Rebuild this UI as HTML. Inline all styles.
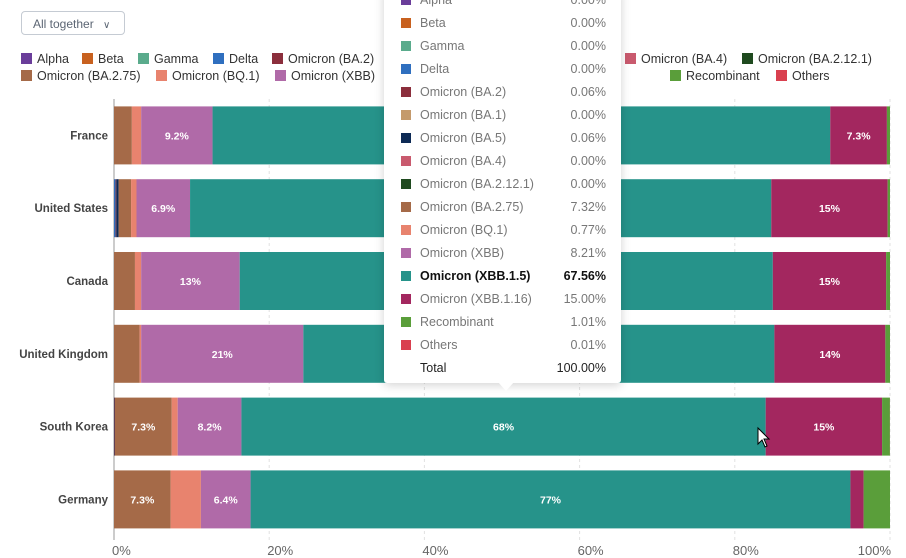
<!DOCTYPE html>
<html><head><meta charset="utf-8">
<style>
body{margin:0;width:906px;height:558px;background:#fff;font-family:"Liberation Sans",sans-serif;position:relative;overflow:hidden}
#dd{position:absolute;left:21px;top:11px;width:104px;height:24px;border:1px solid #c5cbd3;border-radius:4px;font-size:12px;color:#5b6573;line-height:24px;padding-left:11px;box-sizing:border-box}
.leg{position:absolute;font-size:12.5px;color:#333;white-space:nowrap}
.leg i{display:inline-block;width:11px;height:11px;margin-right:5px;vertical-align:-1px}
#tip{position:absolute;left:384px;top:-12px;width:237px;height:395px;background:#fff;box-shadow:0 2px 10px rgba(0,0,0,0.18);border-radius:3px}
#arrow{position:absolute;left:498px;top:382px;width:0;height:0;border-left:8px solid transparent;border-right:8px solid transparent;border-top:9px solid #fff}
.tr{position:absolute;left:17px;width:205px;font-size:12.5px;color:#777;height:18px;line-height:18px}
.tr i{position:absolute;left:0;top:4px;width:10px;height:10px}
.tr span.n{position:absolute;left:19px}
.tr span.v{position:absolute;right:0}
</style></head><body>
<div id="dd">All together <span style="margin-left:6px;font-size:10px">&#x2228;</span></div>
<svg id="chart" width="906" height="558" style="position:absolute;left:0;top:0"></svg>
<div id="legend"></div>
<div id="tip"></div>
<div id="arrow"></div>
<script>
const series=["Alpha","Beta","Gamma","Delta","Omicron (BA.2)","Omicron (BA.1)","Omicron (BA.5)","Omicron (BA.4)","Omicron (BA.2.12.1)","Omicron (BA.2.75)","Omicron (BQ.1)","Omicron (XBB)","Omicron (XBB.1.5)","Omicron (XBB.1.16)","Recombinant","Others"];
const colors=["#6a3d9a","#c8611f","#5aab8c","#2f6fbf","#8b2e3c","#c49a6c","#0d2a55","#c95a6e","#1f4a1f","#a56a48","#e8836e","#b06aa8","#26938a","#a3275f","#5a9e3a","#d9404f"];
const countries=["France","United States","Canada","United Kingdom","South Korea","Germany"];
const france=[0,0,0,0,0,0,0,0,0,2.3,1.2,9.2,79.6,7.3,0.4,0];
const unitedStates=[0,0,0,0.2,0.1,0,0.3,0,0,1.6,0.7,6.9,74.9,15,0.3,0];
const canada=[0,0,0,0,0,0,0,0,0,2.7,0.8,12.7,68.7,14.6,0.5,0];
const unitedKingdom=[0,0,0,0,0,0,0,0,0,3.3,0.2,20.9,60.7,14.3,0.6,0];
const southKorea=[0,0,0,0,0.06,0,0.06,0,0,7.32,0.77,8.21,67.56,15.0,1.01,0.01];
const germany=[0,0,0,0,0,0,0,0,0,7.3,3.9,6.4,77.3,1.7,3.4,0];
const values=[france,unitedStates,canada,unitedKingdom,southKorea,germany];
const ticks=[0,20,40,60,80,100];
const tooltipIndex=4;

const NS="http://www.w3.org/2000/svg";
const svg=document.getElementById('chart');
const X0=114,X1=890,TOP=99,BAND=72.8,BH=58;
const xs=v=>X0+(X1-X0)*v/100;
const yc=i=>TOP+BAND*i+BAND/2;
function mk(t,a){const e=document.createElementNS(NS,t);for(const k in a)e.setAttribute(k,a[k]);svg.appendChild(e);return e;}
ticks.forEach(t=>{
  const g=mk('line',{x1:xs(t),x2:xs(t),y1:TOP,y2:540,stroke:t===0?'#999':'#e2e2e2','stroke-dasharray':t===0?'':'3,3'});
  
  
  const tx=mk('text',{x:t===100?xs(t)+1:xs(t)-2,y:555,'font-size':13,fill:'#666','text-anchor':t===100?'end':'start','font-family':'Liberation Sans, sans-serif'});
  tx.textContent=t+'%';
  
  
});
countries.forEach((c,i)=>{
  const lb=mk('text',{x:108,y:yc(i)+4,'font-size':11.5,'font-weight':'bold',fill:'#444','text-anchor':'end','font-family':'Liberation Sans, sans-serif'});
  lb.textContent=c;
  
  
  let acc=0;
  values[i].forEach((v,s)=>{
    if(v<=0)return;
    const x=xs(acc),w=xs(acc+v)-x;acc+=v;
    const r=mk('rect',{x:x,y:yc(i)-BH/2,width:w,height:BH,fill:colors[s]});
    
    
    if(v>=6){
      const t=mk('text',{x:x+w/2,y:yc(i)+4,'font-size':10.5,'font-weight':'bold',fill:'#fff','text-anchor':'middle','font-family':'Liberation Sans, sans-serif'});
      t.textContent=(v<10?v.toFixed(1):Math.round(v))+'%';
      
      
    }
  });
});
// cursor
const cur=mk('path',{d:'M758 428 L758 444 L762 440 L765 447 L767 446 L764 439 L769 439 Z',fill:'#fff',stroke:'#000','stroke-width':1});



// legend
const legPos=[[21,52,0],[82,52,1],[138,52,2],[213,52,3],[272,52,4],[625,52,7],[742,52,8],[21,69,9],[156,69,10],[275,69,11],[670,69,14],[776,69,15]];
const leg=document.getElementById('legend');
legPos.forEach(p=>{
  const d=document.createElement('div');d.className='leg';
  d.style.left=p[0]+'px';d.style.top=p[1]+'px';
  d.innerHTML='<i style="background:'+colors[p[2]]+'"></i>'+series[p[2]];
  
  
  leg.appendChild(d);
});
// tooltip
const tip=document.getElementById('tip');
series.forEach((s,k)=>{
  const r=document.createElement('div');r.className='tr';
  r.style.top=(k*23+3)+'px';
  const bold=k===12;
  r.innerHTML='<i style="background:'+colors[k]+'"></i><span class="n"'+(bold?' style="color:#111;font-weight:bold"':'')+'>'+s+'</span><span class="v"'+(bold?' style="color:#111;font-weight:bold"':'')+'>'+values[tooltipIndex][k].toFixed(2)+'%</span>';
  
  
  tip.appendChild(r);
});
const tot=document.createElement('div');tot.className='tr';tot.style.top=(16*23+3)+'px';
tot.innerHTML='<span class="n" style="color:#222">Total</span><span class="v" style="color:#222">100.00%</span>';


tip.appendChild(tot);
</script>
</body></html>
